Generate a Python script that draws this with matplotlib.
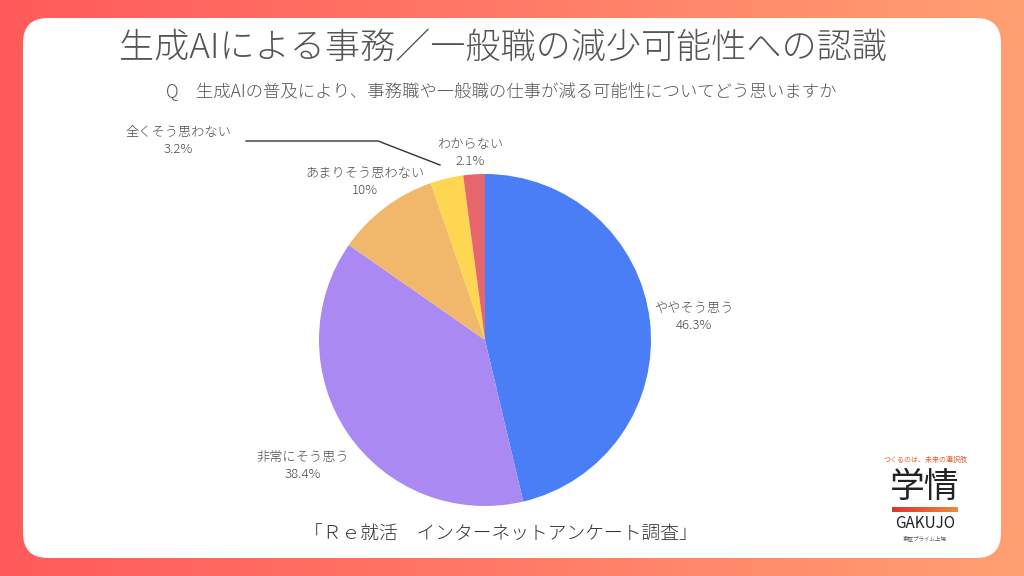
import numpy as np
import matplotlib.pyplot as plt
from matplotlib.patches import FancyBboxPatch
from matplotlib.colors import LinearSegmentedColormap

plt.rcParams['font.family'] = ['Noto Sans CJK JP', 'DejaVu Sans']

# data
labels = ['ややそう思う', '非常にそう思う', 'あまりそう思わない', '全くそう思わない', 'わからない']
values = [46.3, 38.4, 10.0, 3.2, 2.1]
pct_text = ['46.3%', '38.4%', '10%', '3.2%', '2.1%']
colors = ['#4A7EF6', '#AA8AF2', '#F1B76B', '#FFD651', '#E5676C']

title = '生成AIによる事務／一般職の減少可能性への認識'
question = 'Q　生成AIの普及により、事務職や一般職の仕事が減る可能性についてどう思いますか'
source = '「Ｒｅ就活　インターネットアンケート調査」'

# label positions (pixels, origin top-left)
label_pos = [(694, 317), (303, 466), (365, 182), (178, 141), (470, 153)]

W, H = 1024, 576
fig = plt.figure(figsize=(W / 100, H / 100), dpi=100)
ax = fig.add_axes([0, 0, 1, 1])
ax.set_xlim(0, W)
ax.set_ylim(H, 0)
ax.axis('off')

# gradient background
grad = np.linspace(0, 1, 256).reshape(1, -1)
bg = LinearSegmentedColormap.from_list('bg', ['#FF5A5B', '#FF7A66', '#FFA072'])
ax.imshow(grad, extent=[0, W, H, 0], aspect='auto', cmap=bg, zorder=0)

# white card
card = FancyBboxPatch((23 + 25, 18 + 25), 978 - 50, 540 - 50,
                      boxstyle='round,pad=25', fc='white', ec='none', zorder=1)
ax.add_patch(card)

# pie (own axes in pixel space)
cx, cy, r = 485, 340, 166
pax = fig.add_axes([(cx - r) / W, 1 - (cy + r) / H, 2 * r / W, 2 * r / H])
pax.pie(values, colors=colors, startangle=90, counterclock=False,
        wedgeprops=dict(linewidth=0))
pax.set_xlim(-1, 1)
pax.set_ylim(-1, 1)
pax.set_aspect('equal')
pax.axis('off')

for lab, pt, (x, y) in zip(labels, pct_text, label_pos):
    ax.text(x, y, lab + '\n' + pt, ha='center', va='center', fontsize=9.5,
            color='#4a4a4a', linespacing=1.35, fontweight='light', zorder=3)

# leader line for the small slice
ax.plot([246, 378, 440], [141, 141, 165], color='#333333', lw=1, zorder=3)

ax.text(503, 48, title, ha='center', va='center', fontsize=25.3,
        color='#555555', fontweight='light', zorder=3)
ax.text(501, 92, question, ha='center', va='center', fontsize=12.5,
        color='#555555', fontweight='light', zorder=3)
ax.text(501, 535, source, ha='center', va='center', fontsize=13.5,
        color='#333333', fontweight='light', zorder=3)

# logo
ax.text(925, 460, 'つくるのは、未来の選択肢', ha='center', va='center',
        fontsize=5, color='#E0602E', zorder=3)
ax.text(925, 487, '学情', ha='center', va='center', fontsize=25,
        color='#222222', zorder=3)
bar = np.linspace(0, 1, 64).reshape(1, -1)
logo_cm = LinearSegmentedColormap.from_list('logo', ['#D8352E', '#F08A3A'])
ax.imshow(bar, extent=[892, 958, 512, 507], aspect='auto', cmap=logo_cm, zorder=3)
ax.text(925, 524, 'GAKUJO', ha='center', va='center', fontsize=11,
        color='#222222', zorder=3)
ax.text(925, 538, '東証プライム上場', ha='center', va='center', fontsize=4,
        color='#555555', zorder=3)

fig.savefig('out.png', dpi=100)
